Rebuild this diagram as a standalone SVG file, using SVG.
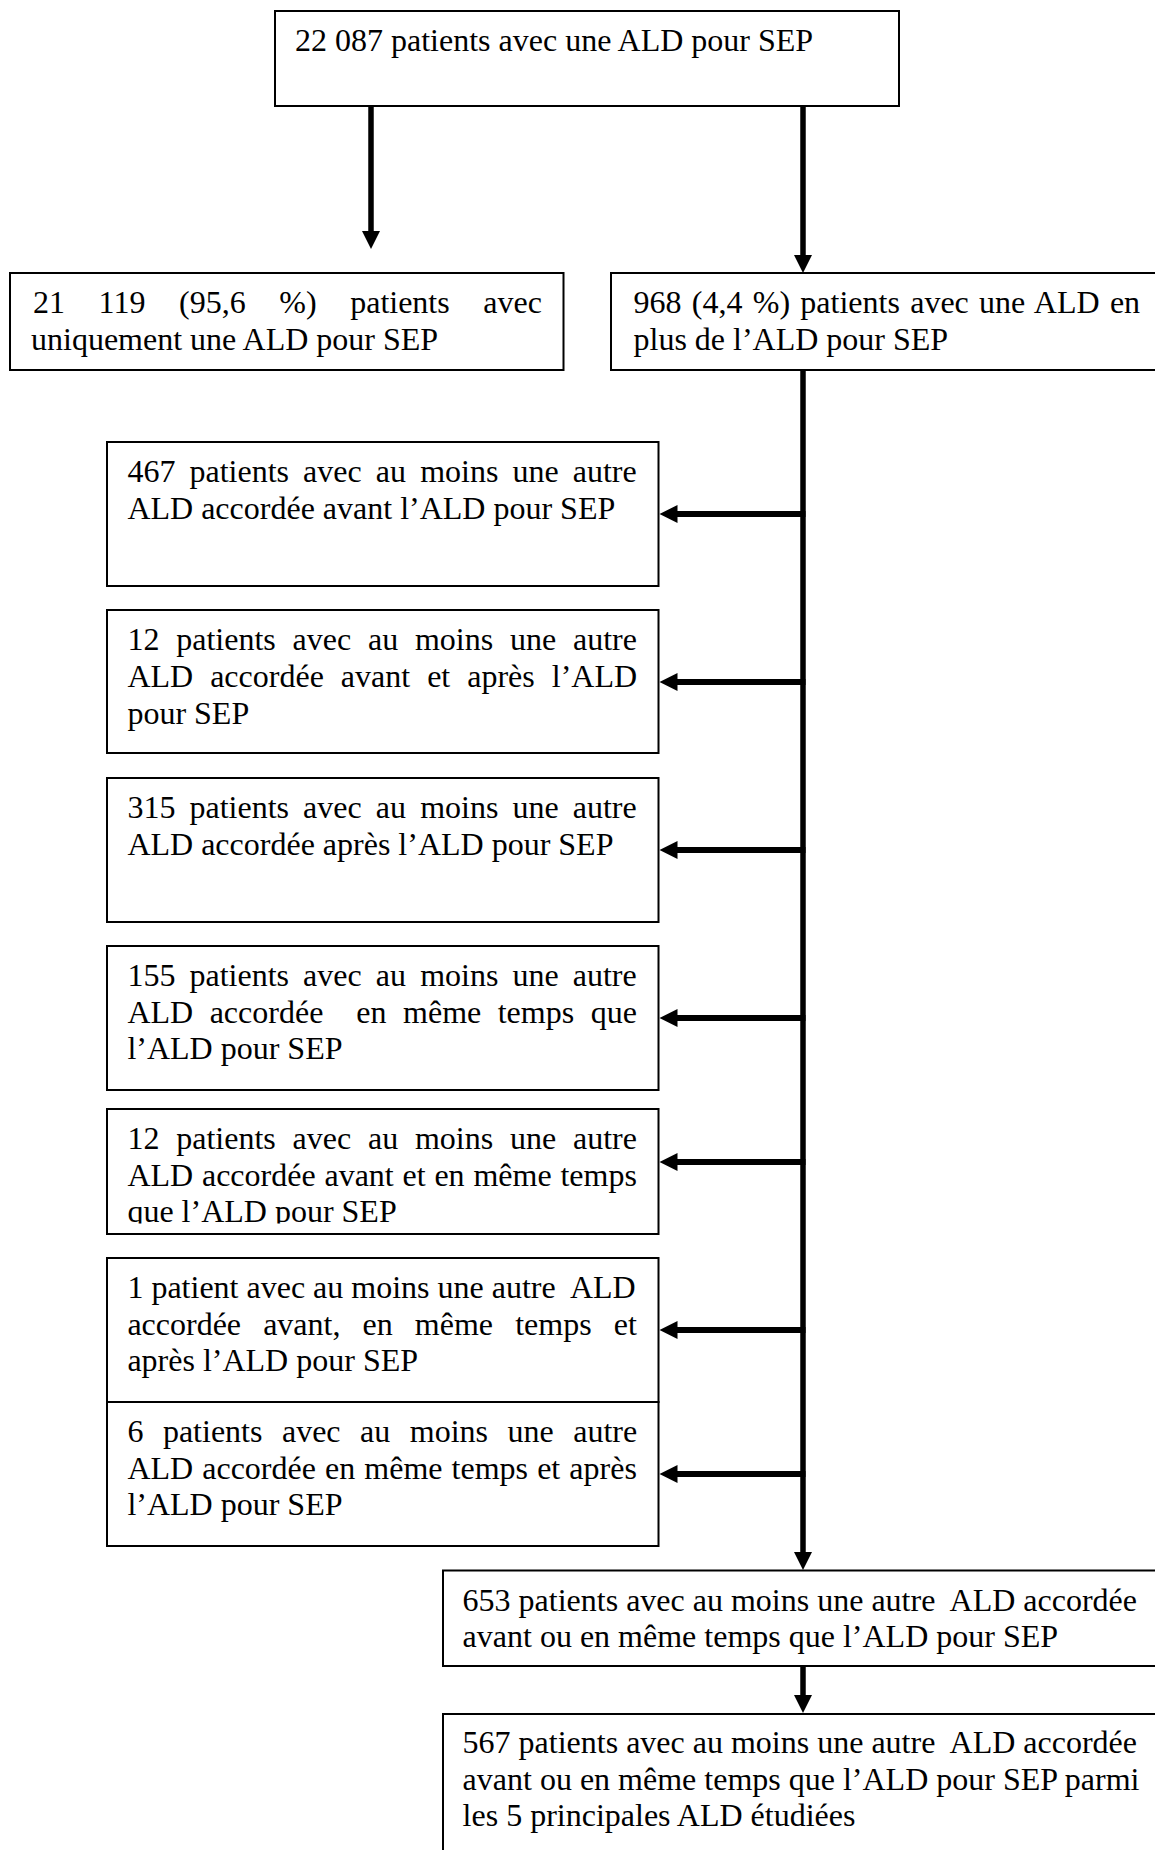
<svg xmlns="http://www.w3.org/2000/svg" width="1155" height="1850" viewBox="0 0 1155 1850">
<style>
.box{fill:#fff;stroke:#000;stroke-width:2}
.t{font-family:"Liberation Serif","Times New Roman",serif;font-size:32px;fill:#000}
.c{stroke:#000;fill:none;stroke-linecap:butt}
.v{stroke-width:5.5}
.h{stroke-width:6}
</style>
<defs>
<marker id="ah" markerUnits="userSpaceOnUse" markerWidth="20" markerHeight="20" refX="1" refY="9" orient="auto" viewBox="0 0 20 18">
<path d="M0,0 L18,9 L0,18 z" fill="#000"/>
</marker>
<clipPath id="clip12b"><rect x="100" y="1105" width="560" height="118.5"/></clipPath>
</defs>
<rect width="1155" height="1850" fill="#fff"/>

<g id="n_total">
<rect class="box" x="275" y="11" width="624" height="95"/>
<text class="t" x="295" y="51">22 087 patients avec une ALD pour SEP</text>
</g>

<g id="n_unique">
<rect class="box" x="10" y="273" width="553.5" height="97"/>
<text class="t" x="33" y="313" style="word-spacing:25.6px">21 119 (95,6 %) patients avec</text>
<text class="t" x="31" y="350">uniquement une ALD pour SEP</text>
</g>

<g id="n_plus">
<rect class="box" x="611" y="273" width="560" height="97"/>
<text class="t" x="633.5" y="313" style="word-spacing:2.3px">968 (4,4 %) patients avec une ALD en</text>
<text class="t" x="633.5" y="350">plus de l’ALD pour SEP</text>
</g>

<g id="n_467">
<rect class="box" x="107" y="442" width="551.5" height="144"/>
<text class="t" x="127.4" y="482" style="word-spacing:6.1px">467 patients avec au moins une autre</text>
<text class="t" x="127.4" y="518.5">ALD accordée avant l’ALD pour SEP</text>
</g>

<g id="n_12a">
<rect class="box" x="107" y="610" width="551.5" height="143"/>
<text class="t" x="127.4" y="650" style="word-spacing:8.8px">12 patients avec au moins une autre</text>
<text class="t" x="127.4" y="686.8" style="word-spacing:9px">ALD accordée avant et après l’ALD</text>
<text class="t" x="127.4" y="723.6">pour SEP</text>
</g>

<g id="n_315">
<rect class="box" x="107" y="778" width="551.5" height="144"/>
<text class="t" x="127.4" y="818" style="word-spacing:6.1px">315 patients avec au moins une autre</text>
<text class="t" x="127.4" y="854.5">ALD accordée après l’ALD pour SEP</text>
</g>

<g id="n_155">
<rect class="box" x="107" y="946" width="551.5" height="144"/>
<text class="t" x="127.4" y="986" style="word-spacing:6.1px">155 patients avec au moins une autre</text>
<text class="t" x="127.4" y="1022.5" style="word-spacing:8.5px;white-space:pre">ALD accordée  en même temps que</text>
<text class="t" x="127.4" y="1059">l’ALD pour SEP</text>
</g>

<g id="n_12b">
<rect class="box" x="107" y="1109" width="551.5" height="125"/>
<text class="t" x="127.4" y="1149" style="word-spacing:8.8px">12 patients avec au moins une autre</text>
<text class="t" x="127.4" y="1185.5" style="word-spacing:0.8px">ALD accordée avant et en même temps</text>
<text class="t" x="127.4" y="1222" clip-path="url(#clip12b)">que l’ALD pour SEP</text>
</g>

<g id="n_1">
<rect class="box" x="107" y="1258" width="551.5" height="144"/>
<text class="t" x="127.4" y="1298" style="white-space:pre">1 patient avec au moins une autre  ALD</text>
<text class="t" x="127.4" y="1334.5" style="word-spacing:14.1px">accordée avant, en même temps et</text>
<text class="t" x="127.4" y="1371">après l’ALD pour SEP</text>
</g>

<g id="n_6">
<rect class="box" x="107" y="1402" width="551.5" height="144"/>
<text class="t" x="127.4" y="1442" style="word-spacing:11.5px">6 patients avec au moins une autre</text>
<text class="t" x="127.4" y="1478.5" style="word-spacing:1.1px">ALD accordée en même temps et après</text>
<text class="t" x="127.4" y="1515">l’ALD pour SEP</text>
</g>

<g id="n_653">
<rect class="box" x="443" y="1570.5" width="730" height="95.5"/>
<text class="t" x="462.6" y="1610.5" style="white-space:pre">653 patients avec au moins une autre  ALD accordée</text>
<text class="t" x="462.6" y="1647">avant ou en même temps que l’ALD pour SEP</text>
</g>

<g id="n_567">
<rect class="box" x="443" y="1714" width="730" height="160"/>
<text class="t" x="462.6" y="1753" style="white-space:pre">567 patients avec au moins une autre  ALD accordée</text>
<text class="t" x="462.6" y="1789.5">avant ou en même temps que l’ALD pour SEP parmi</text>
<text class="t" x="462.6" y="1826">les 5 principales ALD étudiées</text>
</g>

<g id="connectors">
<line class="c v" x1="371" y1="106" x2="371" y2="232" marker-end="url(#ah)"/>
<line class="c v" x1="803" y1="106" x2="803" y2="256" marker-end="url(#ah)"/>
<line class="c v" x1="803" y1="370" x2="803" y2="1553" marker-end="url(#ah)"/>
<line class="c h" x1="805.5" y1="514" x2="676.5" y2="514" marker-end="url(#ah)"/>
<line class="c h" x1="805.5" y1="682" x2="676.5" y2="682" marker-end="url(#ah)"/>
<line class="c h" x1="805.5" y1="850" x2="676.5" y2="850" marker-end="url(#ah)"/>
<line class="c h" x1="805.5" y1="1018" x2="676.5" y2="1018" marker-end="url(#ah)"/>
<line class="c h" x1="805.5" y1="1162" x2="676.5" y2="1162" marker-end="url(#ah)"/>
<line class="c h" x1="805.5" y1="1330" x2="676.5" y2="1330" marker-end="url(#ah)"/>
<line class="c h" x1="805.5" y1="1474" x2="676.5" y2="1474" marker-end="url(#ah)"/>
<line class="c v" x1="803" y1="1666" x2="803" y2="1696" marker-end="url(#ah)"/>
</g>
</svg>
